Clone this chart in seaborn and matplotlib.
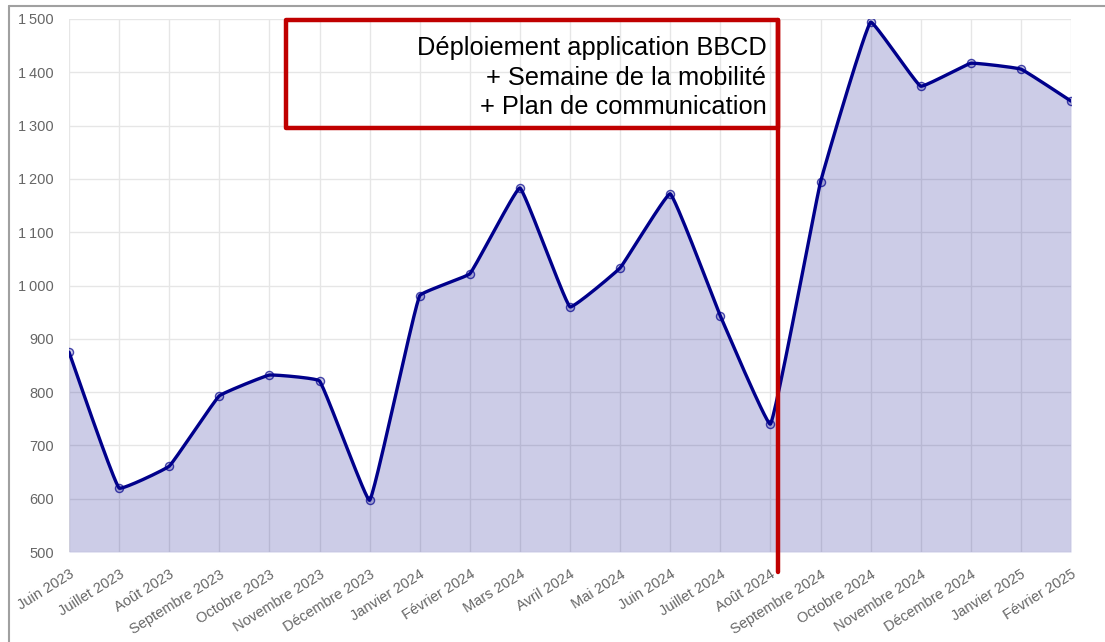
import numpy as np
import pandas as pd
import matplotlib
matplotlib.use("Agg")
import matplotlib.pyplot as plt
from matplotlib.patches import Rectangle
from matplotlib.ticker import FuncFormatter
import seaborn as sns

#%% data
months = ["Juin 2023", "Juillet 2023", "Août 2023", "Septembre 2023", "Octobre 2023",
          "Novembre 2023", "Décembre 2023", "Janvier 2024", "Février 2024", "Mars 2024",
          "Avril 2024", "Mai 2024", "Juin 2024", "Juillet 2024", "Août 2024",
          "Septembre 2024", "Octobre 2024", "Novembre 2024", "Décembre 2024",
          "Janvier 2025", "Février 2025"]
values = [875, 620, 661, 793, 832, 821, 597, 981, 1022, 1183, 960, 1033, 1172, 943,
          740, 1194, 1494, 1374, 1417, 1406, 1346]
note = "Déploiement application BBCD\n+ Semaine de la mobilité\n+ Plan de communication"


#%% chart.js-like spline (tension) computed in pixel-ish space
def spline(xs, ys, tension=0.08, sx=50.1, sy=0.533, n=30):
    px = np.array(xs, float) * sx
    py = np.array(ys, float) * sy
    m = len(px)
    cp_prev, cp_next = [], []
    for i in range(m):
        p = np.array([px[max(i - 1, 0)], py[max(i - 1, 0)]])
        c = np.array([px[i], py[i]])
        q = np.array([px[min(i + 1, m - 1)], py[min(i + 1, m - 1)]])
        d01 = np.hypot(*(c - p))
        d12 = np.hypot(*(q - c))
        tot = d01 + d12 if d01 + d12 else 1
        fa = tension * d01 / tot
        fb = tension * d12 / tot
        cp_prev.append(c - fa * (q - p))
        cp_next.append(c + fb * (q - p))
    out_x, out_y = [], []
    t = np.linspace(0, 1, n)[:, None]
    for i in range(m - 1):
        p0 = np.array([px[i], py[i]])
        p3 = np.array([px[i + 1], py[i + 1]])
        p1, p2 = cp_next[i], cp_prev[i + 1]
        b = (1 - t) ** 3 * p0 + 3 * (1 - t) ** 2 * t * p1 + 3 * (1 - t) * t ** 2 * p2 + t ** 3 * p3
        out_x.extend(b[:, 0] / sx)
        out_y.extend(b[:, 1] / sy)
    return np.array(out_x), np.array(out_y)


df = pd.DataFrame({"idx": np.arange(len(months)), "mois": months, "valeur": values})
sx_, sy_ = spline(df.idx, df.valeur)

#%% figure
sns.set_theme(style="whitegrid")
plt.rcParams["font.family"] = ["Liberation Sans", "DejaVu Sans"]

fig = plt.figure(figsize=(11.05, 6.42), dpi=100)
ax = fig.add_axes([69 / 1105, 1 - 552 / 642, (1071 - 69) / 1105, (552 - 19) / 642])

line_col = "#00008b"
ax.fill_between(sx_, 500, sy_, color=line_col, alpha=0.2, linewidth=0, zorder=2)
ax.plot(sx_, sy_, color=line_col, linewidth=2.4, zorder=3, solid_capstyle="round")
sns.scatterplot(data=df, x="idx", y="valeur", ax=ax, s=34, color=(0, 0, 0.545, 0.2),
                edgecolor=(0, 0, 0.545, 0.7), linewidth=1.0, zorder=4, legend=False)

ax.set_xlim(0, len(months) - 1)
ax.set_ylim(500, 1500)
ax.set_xticks(df.idx)
ax.set_xticklabels(months, rotation=32, ha="right", va="top", rotation_mode="anchor",
                   fontsize=10.5, color="#666666")
ax.set_yticks(range(500, 1501, 100))
ax.yaxis.set_major_formatter(FuncFormatter(lambda v, p: f"{int(v):,}".replace(",", "\u202f")))
ax.tick_params(axis="y", labelsize=10.5, labelcolor="#666666")
ax.tick_params(axis="both", length=8, color="#e6e6e6", width=1, pad=3)
ax.set_xlabel("")
ax.set_ylabel("")
ax.grid(True, color="#e6e6e6", linewidth=1)
ax.set_axisbelow(True)
for s in ax.spines.values():
    s.set_visible(False)

# annotation box + vertical marker
red = "#c00000"
ax.add_patch(Rectangle((4.33, 1296), 14.16 - 4.33, 1498 - 1296, fill=False,
                       edgecolor=red, linewidth=3.2, zorder=5, clip_on=False, joinstyle="round"))
ax.plot([14.16, 14.16], [1498, 462], color=red, linewidth=3.2, zorder=5, clip_on=False)
ax.text(13.92, 1468, note, ha="right", va="top", fontsize=18.3, linespacing=1.3,
        color="black", zorder=6)

# screenshot frame lines (top and left)
fig.add_artist(plt.Line2D([9 / 1105, 1], [1 - 6 / 642, 1 - 6 / 642], color="#a0a0a0", linewidth=1.5))
fig.add_artist(plt.Line2D([9 / 1105, 9 / 1105], [0, 1 - 6 / 642], color="#a0a0a0", linewidth=1.5))

fig.savefig("out.png", dpi=100)
